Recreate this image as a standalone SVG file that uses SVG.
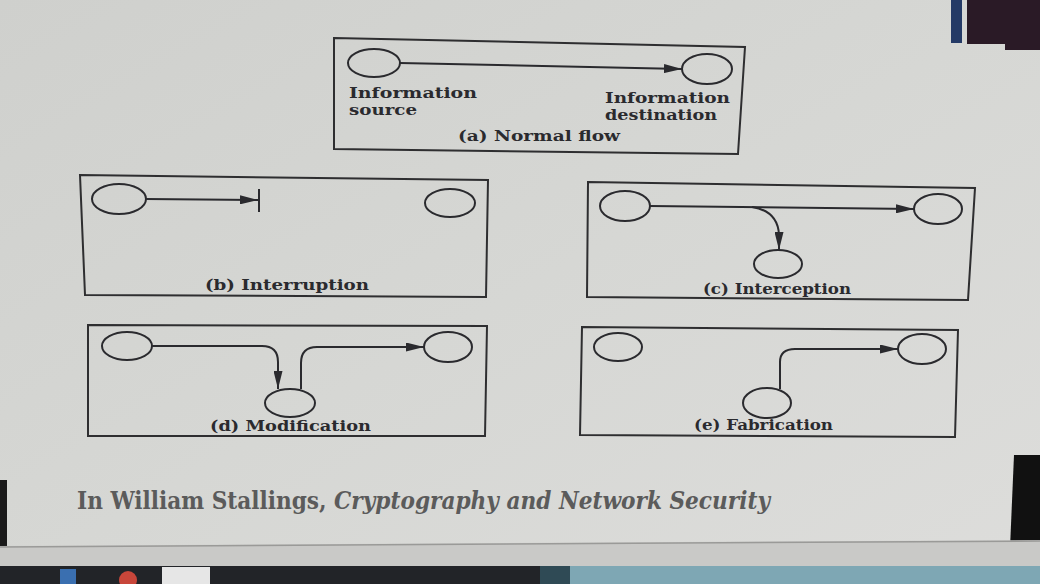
<svg xmlns="http://www.w3.org/2000/svg" width="1040" height="584" viewBox="0 0 1040 584">
<defs>
<linearGradient id="bg" x1="0" y1="0" x2="1" y2="1">
<stop offset="0" stop-color="#cfd0cd"/>
<stop offset="0.5" stop-color="#d6d7d4"/>
<stop offset="1" stop-color="#dddddb"/>
</linearGradient>
<marker id="ah" viewBox="0 0 18 9" refX="18" refY="4.5" markerWidth="18" markerHeight="9" markerUnits="userSpaceOnUse" orient="auto">
<path d="M0,0 L18,4.5 L0,9 z" fill="#2a2a2e"/>
</marker>
<style>
.frame{fill:none;stroke:#2e2e30;stroke-width:2}
.node{fill:none;stroke:#2a2a2e;stroke-width:2}
.conn{fill:none;stroke:#2a2a2e;stroke-width:2}
.lbl{font-family:"DejaVu Serif","Liberation Serif",serif;font-weight:bold;font-size:15px;fill:#2a2a2e}
.nl{font-size:14px}
.cap{font-family:"DejaVu Serif Condensed","DejaVu Serif","Liberation Serif",serif;font-weight:bold;font-size:25px;fill:#5b5b5b}
</style>
</defs>
<rect x="0" y="0" width="1040" height="584" fill="url(#bg)"/>
<!-- screen edges -->
<rect x="951" y="0" width="11" height="43" fill="#243a66"/>
<polygon points="967,0 1040,0 1040,50 1005,50 1005,44 967,44" fill="#2a1a26"/>
<polygon points="1014,455 1040,455 1040,548 1010,548" fill="#111"/>
<rect x="0" y="480" width="7" height="68" fill="#1a1a1a"/>
<polygon points="0,546 1040,540 1040,566 0,566" fill="#c9c9c7"/>
<line x1="0" y1="547" x2="1040" y2="541" stroke="#9a9a98" stroke-width="1.5"/>
<rect x="0" y="566" width="1040" height="18" fill="#222428"/>
<rect x="540" y="566" width="30" height="18" fill="#2f4a55"/>
<rect x="570" y="566" width="470" height="18" fill="#7ea7b4"/>
<rect x="60" y="569" width="16" height="15" fill="#3a6fb0"/>
<circle cx="128" cy="580" r="9" fill="#c8463a"/>
<rect x="162" y="567" width="48" height="17" fill="#e6e6e6"/>

<!-- frames -->
<g id="frame-a"><polygon class="frame" points="334,38 745,47 738,154 334,149"/><text class="lbl" x="458" y="141" textLength="162" lengthAdjust="spacingAndGlyphs">(a) Normal flow</text></g>
<g id="frame-b"><polygon class="frame" points="80,175 488,180 486,297 85,295"/><text class="lbl" x="205" y="290" textLength="164" lengthAdjust="spacingAndGlyphs">(b) Interruption</text></g>
<g id="frame-c"><polygon class="frame" points="588,182 975,188 968,300 587,297"/><text class="lbl" x="703" y="294" textLength="148" lengthAdjust="spacingAndGlyphs">(c) Interception</text></g>
<g id="frame-d"><polygon class="frame" points="88,325 487,326 485,436 88,436"/><text class="lbl" x="210" y="431" textLength="161" lengthAdjust="spacingAndGlyphs">(d) Modification</text></g>
<g id="frame-e"><polygon class="frame" points="582,327 958,330 955,437 580,435"/><text class="lbl" x="694" y="430" textLength="139" lengthAdjust="spacingAndGlyphs">(e) Fabrication</text></g>

<!-- nodes -->
<g id="a-source"><ellipse class="node" cx="374" cy="63" rx="26" ry="14"/><text class="lbl nl" x="349" y="98" textLength="128" lengthAdjust="spacingAndGlyphs">Information</text><text class="lbl nl" x="349" y="115" textLength="68" lengthAdjust="spacingAndGlyphs">source</text></g>
<g id="a-dest"><ellipse class="node" cx="707" cy="69" rx="25" ry="15"/><text class="lbl nl" x="605" y="103" textLength="125" lengthAdjust="spacingAndGlyphs">Information</text><text class="lbl nl" x="605" y="120" textLength="112" lengthAdjust="spacingAndGlyphs">destination</text></g>
<g id="b-source"><ellipse class="node" cx="119" cy="199" rx="27" ry="15"/></g>
<g id="b-dest"><ellipse class="node" cx="450" cy="203" rx="25" ry="14"/></g>
<g id="c-source"><ellipse class="node" cx="625" cy="206" rx="25" ry="15"/></g>
<g id="c-dest"><ellipse class="node" cx="938" cy="209" rx="24" ry="15"/></g>
<g id="c-intruder"><ellipse class="node" cx="778" cy="264" rx="24" ry="14"/></g>
<g id="d-source"><ellipse class="node" cx="127" cy="346" rx="25" ry="14"/></g>
<g id="d-dest"><ellipse class="node" cx="448" cy="347" rx="24" ry="15"/></g>
<g id="d-intruder"><ellipse class="node" cx="290" cy="403" rx="25" ry="14"/></g>
<g id="e-source"><ellipse class="node" cx="618" cy="347" rx="24" ry="14"/></g>
<g id="e-dest"><ellipse class="node" cx="922" cy="349" rx="24" ry="15"/></g>
<g id="e-intruder"><ellipse class="node" cx="767" cy="403" rx="24" ry="15"/></g>

<!-- connectors -->
<g id="connectors">
<path class="conn" d="M400,63 L682,69" marker-end="url(#ah)"/>
<path class="conn" d="M146,199 L258,200" marker-end="url(#ah)"/>
<line class="conn" x1="259" y1="189" x2="259" y2="212"/>
<path class="conn" d="M650,206 L914,209" marker-end="url(#ah)"/>
<path class="conn" d="M752,207 Q778,211 779,235 L779,250" marker-end="url(#ah)"/>
<path class="conn" d="M152,346 L262,346 Q278,346 278,362 L278,389" marker-end="url(#ah)"/>
<path class="conn" d="M301,389 L301,363 Q301,347 317,347 L424,347" marker-end="url(#ah)"/>
<path class="conn" d="M780,389 L780,362 Q780,349 795,349 L898,349" marker-end="url(#ah)"/>
</g>

<text class="cap" x="77" y="509" textLength="693" lengthAdjust="spacingAndGlyphs">In William Stallings, <tspan font-style="italic">Cryptography and Network Security</tspan></text>
</svg>
